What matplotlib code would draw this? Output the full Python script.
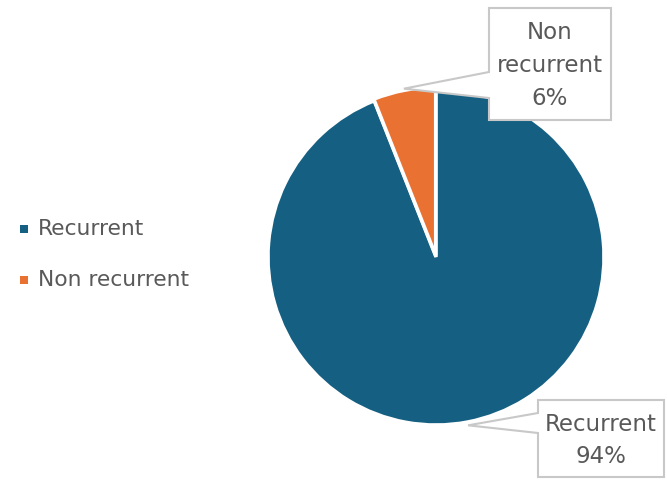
import numpy as np
import matplotlib
matplotlib.use("Agg")
import matplotlib.pyplot as plt
from matplotlib.patches import Polygon, Rectangle

categories = ["Recurrent", "Non recurrent"]
values = [94, 6]
colors = ["#156082", "#E97132"]
text_color = "#595959"
font = "DejaVu Sans"
fs_legend = 15.7
fs_label = 16.5

W, H = 667, 483
fig = plt.figure(figsize=(W / 100, H / 100), dpi=100)
cx, cy, R = 436, 257, 168
ax = fig.add_axes([(cx - R) / W, (H - cy - R) / H, 2 * R / W, 2 * R / H])

wedges, _ = ax.pie(values, colors=colors, startangle=90, counterclock=False,
                   explode=[0, 0.01], radius=1, frame=False,
                   wedgeprops=dict(edgecolor="white", linewidth=2.5))
ax.set_xlim(-1, 1)
ax.set_ylim(-1, 1)
ax.set_aspect("equal")
ax.axis("off")

def px2d(px, py):
    return ((px - cx) / R, (cy - py) / R)

boxes = [
    dict(box=(538, 400, 664, 477), base=(413, 433), lines=["Recurrent", "94%"], ly=[425, 457]),
    dict(box=(489, 8, 611, 120), base=(72, 98), lines=["Non", "recurrent", "6%"], ly=[32, 65, 98]),
]

for w, v, cat, b in zip(wedges, values, categories, boxes):
    mid = np.deg2rad((w.theta1 + w.theta2) / 2)
    tip = (1.02 * np.cos(mid), 1.02 * np.sin(mid))
    l, t, r, btm = b["box"]
    by1, by2 = b["base"]
    pts = [px2d(l, t), px2d(r, t), px2d(r, btm), px2d(l, btm), px2d(l, by2), tip, px2d(l, by1)]
    poly = Polygon(pts, closed=True, facecolor="white", edgecolor="#C8C8C8",
                   linewidth=1.5, clip_on=False, zorder=5)
    ax.add_patch(poly)
    xc = (l + r) / 2
    for line, yy in zip(b["lines"], b["ly"]):
        ax.text(*px2d(xc, yy), line, ha="center", va="center", clip_on=False,
                fontsize=fs_label, color=text_color, family=font, zorder=6)

for cat, col, yy in zip(categories, colors, [229, 280]):
    fig.patches.append(Rectangle((20 / W, 1 - (yy + 4) / H), 8 / W, 8 / H,
                                 transform=fig.transFigure, facecolor=col,
                                 edgecolor="none"))
    fig.text(38 / W, 1 - yy / H, cat, ha="left", va="center",
             fontsize=fs_legend, color=text_color, family=font)

fig.savefig("out.png", dpi=100)
